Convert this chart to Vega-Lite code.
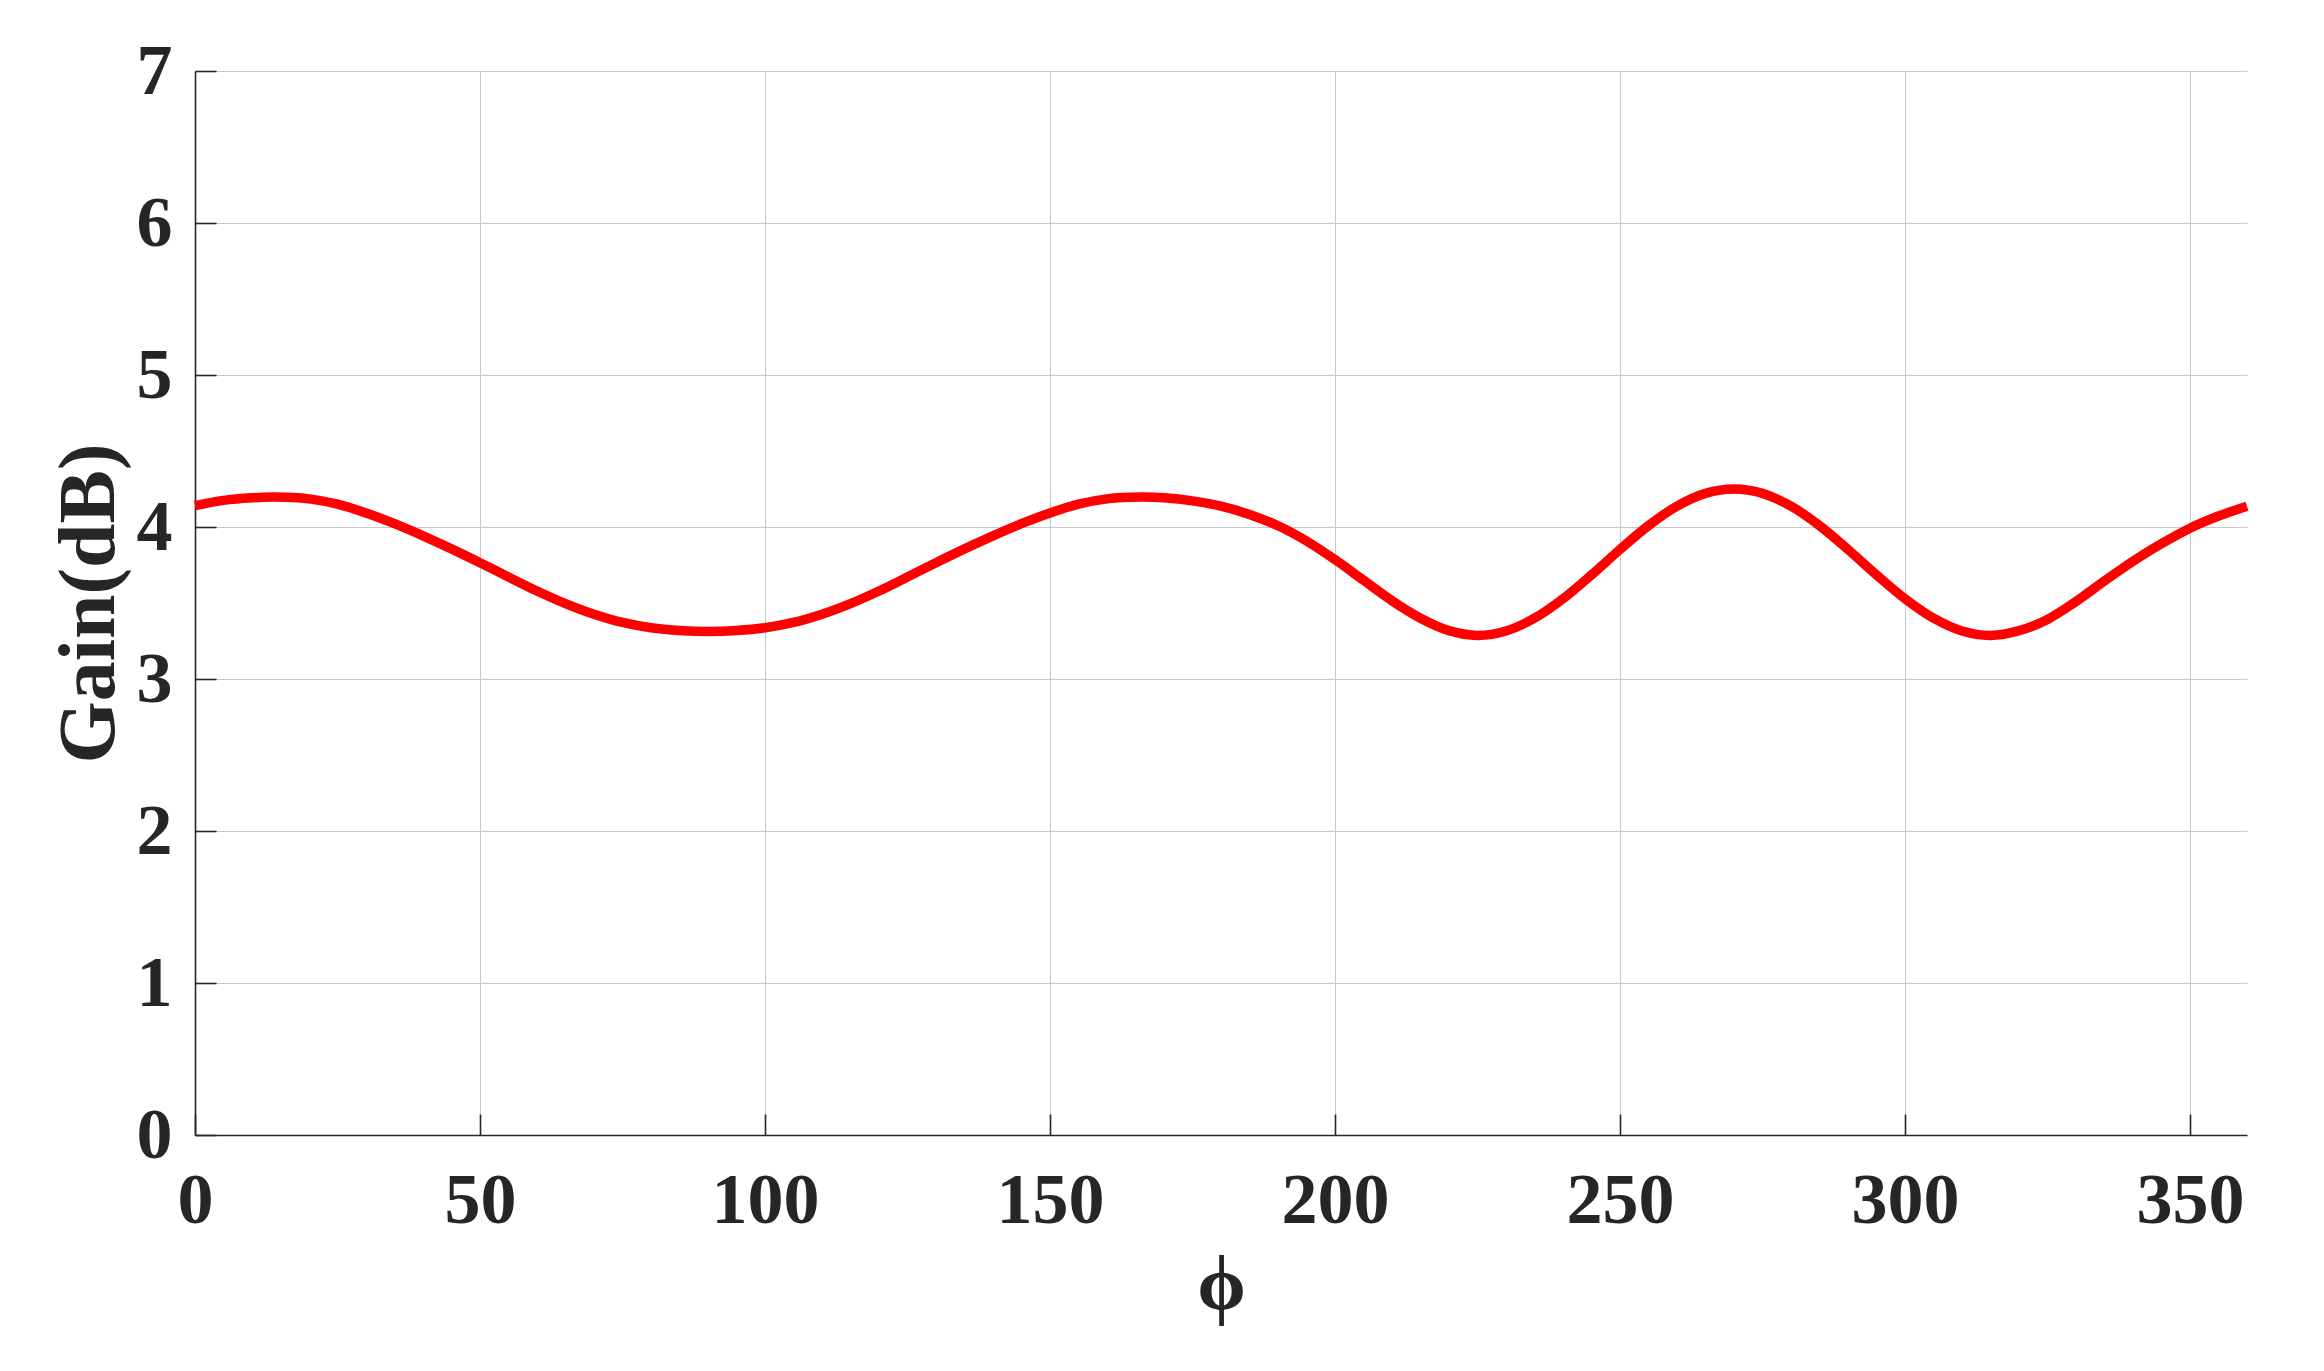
{
  "$schema": "https://vega.github.io/schema/vega-lite/v6.json",
  "width": 2052,
  "height": 1064,
  "autosize": {"type": "none"},
  "padding": {"left": 195, "top": 71, "right": 77, "bottom": 236},
  "background": "white",
  "config": {
    "view": {"stroke": null},
    "font": "Liberation Serif"
  },
  "data": {
    "values": [
      {"phi": 0, "gain": 4.14}, {"phi": 5, "gain": 4.175}, {"phi": 10, "gain": 4.192}, {"phi": 14, "gain": 4.197},
      {"phi": 20, "gain": 4.185}, {"phi": 25, "gain": 4.15}, {"phi": 30, "gain": 4.092}, {"phi": 35, "gain": 4.022},
      {"phi": 40, "gain": 3.942}, {"phi": 45, "gain": 3.856}, {"phi": 50, "gain": 3.765}, {"phi": 55, "gain": 3.671},
      {"phi": 60, "gain": 3.579}, {"phi": 65, "gain": 3.496}, {"phi": 70, "gain": 3.426}, {"phi": 75, "gain": 3.372},
      {"phi": 80, "gain": 3.337}, {"phi": 85, "gain": 3.319}, {"phi": 90, "gain": 3.313}, {"phi": 95, "gain": 3.319},
      {"phi": 100, "gain": 3.337}, {"phi": 105, "gain": 3.372}, {"phi": 110, "gain": 3.426}, {"phi": 115, "gain": 3.496},
      {"phi": 120, "gain": 3.579}, {"phi": 125, "gain": 3.671}, {"phi": 130, "gain": 3.765}, {"phi": 135, "gain": 3.856},
      {"phi": 140, "gain": 3.942}, {"phi": 145, "gain": 4.022}, {"phi": 150, "gain": 4.092}, {"phi": 155, "gain": 4.15},
      {"phi": 160, "gain": 4.185}, {"phi": 166, "gain": 4.197}, {"phi": 170, "gain": 4.192}, {"phi": 175, "gain": 4.172},
      {"phi": 180, "gain": 4.137}, {"phi": 185, "gain": 4.083}, {"phi": 190, "gain": 4.008}, {"phi": 195, "gain": 3.908},
      {"phi": 200, "gain": 3.785}, {"phi": 205, "gain": 3.65}, {"phi": 210, "gain": 3.515}, {"phi": 215, "gain": 3.4},
      {"phi": 220, "gain": 3.318}, {"phi": 225, "gain": 3.287}, {"phi": 230, "gain": 3.316}, {"phi": 235, "gain": 3.4},
      {"phi": 240, "gain": 3.528}, {"phi": 245, "gain": 3.685}, {"phi": 250, "gain": 3.852}, {"phi": 255, "gain": 4.009},
      {"phi": 260, "gain": 4.137}, {"phi": 265, "gain": 4.221}, {"phi": 270, "gain": 4.25}, {"phi": 275, "gain": 4.221},
      {"phi": 280, "gain": 4.137}, {"phi": 285, "gain": 4.009}, {"phi": 290, "gain": 3.852}, {"phi": 295, "gain": 3.685},
      {"phi": 300, "gain": 3.528}, {"phi": 305, "gain": 3.4}, {"phi": 310, "gain": 3.316}, {"phi": 315, "gain": 3.287},
      {"phi": 320, "gain": 3.318}, {"phi": 325, "gain": 3.392}, {"phi": 330, "gain": 3.51}, {"phi": 335, "gain": 3.645},
      {"phi": 340, "gain": 3.775}, {"phi": 345, "gain": 3.89}, {"phi": 350, "gain": 3.992}, {"phi": 355, "gain": 4.072},
      {"phi": 360, "gain": 4.137}
    ]
  },
  "mark": {"type": "line", "color": "#ff0000", "strokeWidth": 9.5, "interpolate": "catmull-rom", "clip": false},
  "encoding": {
    "x": {
      "field": "phi", "type": "quantitative",
      "scale": {"domain": [0, 360], "nice": false, "zero": false},
      "axis": {
        "title": "ϕ",
        "values": [0, 50, 100, 150, 200, 250, 300, 350],
        "grid": true, "gridColor": "#c8c8c8", "gridWidth": 1,
        "domainColor": "#262626", "domainWidth": 1.6,
        "tickColor": "#262626", "tickWidth": 1.6, "tickSize": -21,
        "labelFont": "Liberation Serif", "labelFontWeight": "bold", "labelFontSize": 72, "labelColor": "#262626",
        "labelPadding": 51, "labelFlush": false,
        "titleFont": "Liberation Serif", "titleFontWeight": "bold", "titleFontSize": 78, "titleColor": "#262626",
        "titlePadding": 10
      }
    },
    "y": {
      "field": "gain", "type": "quantitative",
      "scale": {"domain": [0, 7], "nice": false, "zero": false},
      "axis": {
        "title": "Gain(dB)",
        "values": [0, 1, 2, 3, 4, 5, 6, 7],
        "grid": true, "gridColor": "#c8c8c8", "gridWidth": 1,
        "domainColor": "#262626", "domainWidth": 1.6,
        "tickColor": "#262626", "tickWidth": 1.6, "tickSize": -21,
        "labelFont": "Liberation Serif", "labelFontWeight": "bold", "labelFontSize": 72, "labelColor": "#262626",
        "labelPadding": 44, "labelFlush": false,
        "titleFont": "Liberation Serif", "titleFontWeight": "bold", "titleFontSize": 80, "titleColor": "#262626",
        "titlePadding": 6
      }
    }
  }
}
